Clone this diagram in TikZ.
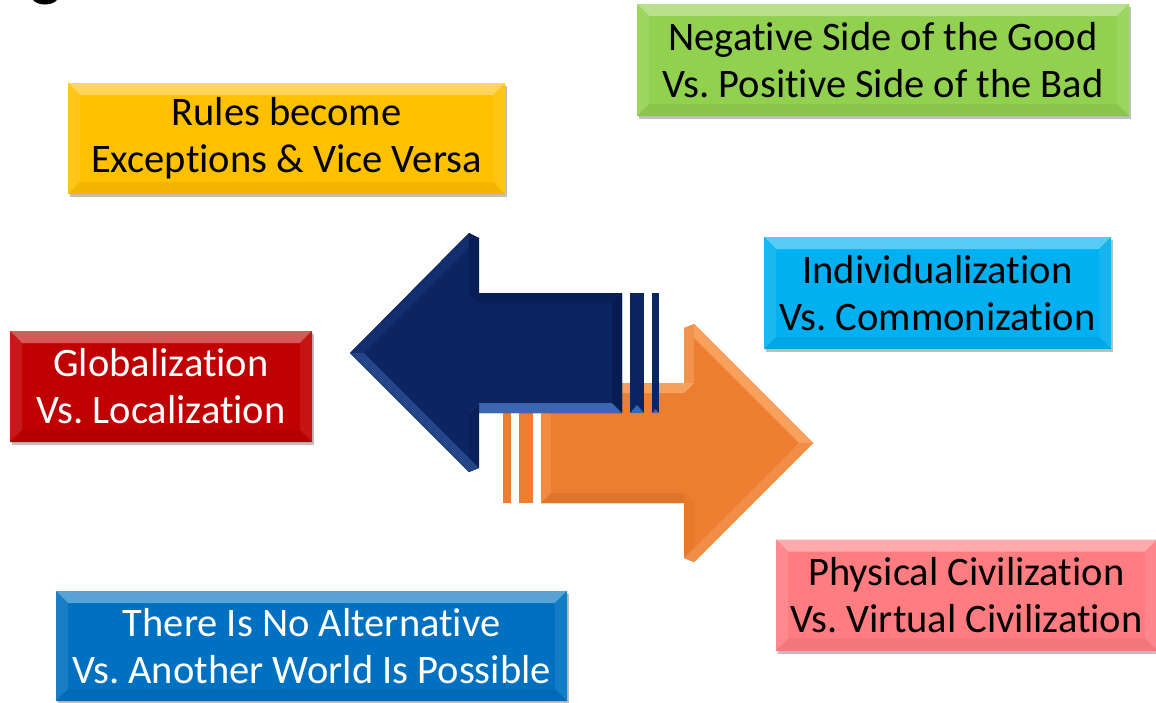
\documentclass[tikz,border=0pt]{standalone}
\usepackage{fontspec}
\setmainfont{Carlito}[Ligatures={NoCommon,NoRare}]
\usetikzlibrary{shadows}
\definecolor{cyel}{HTML}{FFC000}
\definecolor{cgrn}{HTML}{92D050}
\definecolor{ccyn}{HTML}{00B0F0}
\definecolor{cred}{HTML}{C00000}
\definecolor{cpnk}{HTML}{FF7C80}
\definecolor{cblu}{HTML}{0070C0}
\definecolor{cnavy}{HTML}{0B2462}
\definecolor{cnavyL}{HTML}{3E66AE}
\definecolor{cnavyD}{HTML}{061A4A}
\definecolor{corg}{HTML}{ED7D31}
\definecolor{corgL}{HTML}{F7A15C}
\definecolor{corgD}{HTML}{E07428}
\tikzset{
  bx/.style={rectangle, inner sep=0pt, fill=#1, align=center,
    font=\fontsize{40.5}{47}\selectfont,
    drop shadow={shadow xshift=2pt, shadow yshift=-3pt, opacity=0.25, fill=black},
    path picture={
      \fill[#1!65!white] (path picture bounding box.north west) -- (path picture bounding box.north east)
        -- ([shift={(-12pt,-12pt)}]path picture bounding box.north east)
        -- ([shift={(12pt,-12pt)}]path picture bounding box.north west) -- cycle;
      \fill[#1!90!white] (path picture bounding box.north west) -- (path picture bounding box.south west)
        -- ([shift={(12pt,12pt)}]path picture bounding box.south west)
        -- ([shift={(12pt,-12pt)}]path picture bounding box.north west) -- cycle;
      \fill[#1!92!white] (path picture bounding box.north east) -- (path picture bounding box.south east)
        -- ([shift={(-12pt,12pt)}]path picture bounding box.south east)
        -- ([shift={(-12pt,-12pt)}]path picture bounding box.north east) -- cycle;
      \fill[#1!95!black] (path picture bounding box.south west) -- (path picture bounding box.south east)
        -- ([shift={(-12pt,12pt)}]path picture bounding box.south east)
        -- ([shift={(12pt,12pt)}]path picture bounding box.south west) -- cycle;
    }},
  navy/.style={fill=cnavy},
  orng/.style={fill=corg}
}
\begin{document}
\frenchspacing
\begin{tikzpicture}[x=1pt,y=-1pt]
\useasboundingbox (0,0) rectangle (1156,702);
\fill[white] (0,0) rectangle (1156,702);
% fragment of a glyph at the top edge
\fill[black] (33,0) .. controls (38,6) and (52,6) .. (57,0) -- cycle;

% boxes
\node[bx=cyel, minimum width=437pt, minimum height=111pt, text=black] (yel) at (286.5,138.5) {Rules become\\Exceptions \& Vice Versa};
\node[bx=cgrn, minimum width=492pt, minimum height=112pt, text=black] (grn) at (883,60) {Negative Side of the Good\\Vs. Positive Side of the Bad};
\node[bx=ccyn, minimum width=347pt, minimum height=112pt, text=black] (cyn) at (937.5,293) {Individualization\\Vs. Commonization};
\node[bx=cred, minimum width=302pt, minimum height=111pt, text=white] (red) at (161,386.5) {Globalization\\Vs. Localization};
\node[bx=cpnk, minimum width=381pt, minimum height=111pt, text=black] (pnk) at (966.5,595) {Physical Civilization\\Vs. Virtual Civilization};
\node[bx=cblu, minimum width=511pt, minimum height=110pt, text=white] (blu) at (311.5,646) {There Is No Alternative\\Vs. Another World Is Possible};

% orange arrow (right)
\fill[orng] (813,443) -- (694,324) -- (694,383) -- (541,383) -- (541,503) -- (694,503) -- (694,562) -- cycle;
\fill[corgL] (813,443) -- (694,324) -- (684,328) -- (799,443) -- cycle;
\fill[corgL!60!corg] (694,324) -- (694,383) -- (684,393) -- (684,328) -- cycle;
\fill[corgL] (694,383) -- (541,383) -- (551,393) -- (684,393) -- cycle;
\fill[corgL!40!corg] (541,383) -- (541,503) -- (551,493) -- (551,393) -- cycle;
\fill[corgD] (541,503) -- (694,503) -- (684,493) -- (551,493) -- cycle;
\fill[corgD!50!corg] (694,503) -- (694,562) -- (684,558) -- (684,493) -- cycle;
\fill[corgL!45!corg] (694,562) -- (813,443) -- (799,443) -- (684,558) -- cycle;
\fill[orng] (519,383) rectangle (533,503);
\fill[orng] (503,383) rectangle (511,503);
\fill[corgL] (519,383) rectangle (533,387);
\fill[corgL] (503,383) rectangle (511,387);

% navy arrow (left)
\fill[navy] (350,353) -- (469,233) -- (469,293) -- (622,293) -- (622,413) -- (469,413) -- (469,472) -- cycle;
\fill[cnavy!85!cnavyL] (350,353) -- (469,233) -- (479,238) -- (364,353) -- cycle;
\fill[cnavyD!60!cnavy] (469,233) -- (469,293) -- (479,303) -- (479,238) -- cycle;
\fill[cnavyD!60!cnavy] (469,293) -- (622,293) -- (612,303) -- (479,303) -- cycle;
\fill[cnavyD!70!cnavy] (622,293) -- (622,413) -- (612,403) -- (612,303) -- cycle;
\fill[cnavyL] (622,413) -- (469,413) -- (479,403) -- (612,403) -- cycle;
\fill[cnavyD!40!cnavy] (469,413) -- (469,472) -- (479,468) -- (479,403) -- cycle;
\fill[cnavyL!50!cnavy] (469,472) -- (350,353) -- (364,353) -- (479,468) -- cycle;
\fill[navy] (630,293) rectangle (644,413);
\fill[navy] (652,293) rectangle (659,413);
\fill[cnavyL] (630,413) -- (637,405) -- (644,413) -- cycle;
\fill[cnavyL] (652,413) -- (655.5,409) -- (659,413) -- cycle;
\end{tikzpicture}
\end{document}
